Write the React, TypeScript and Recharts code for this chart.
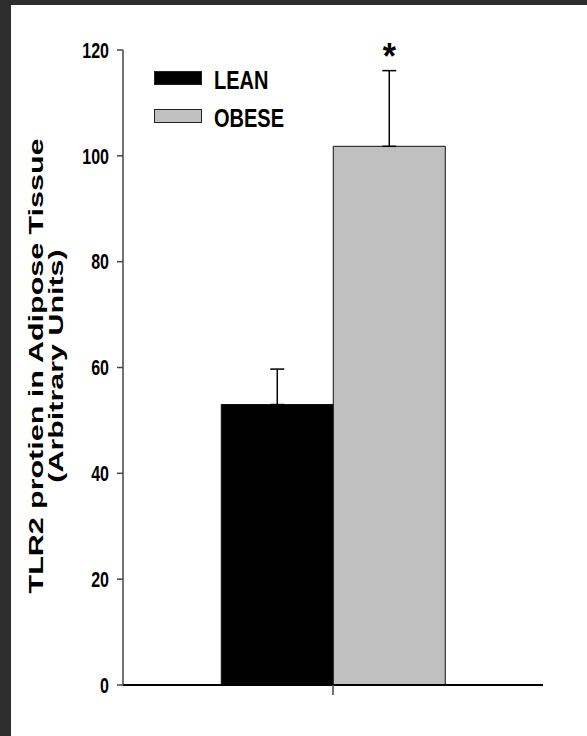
import { BarChart, Bar, XAxis, YAxis, ErrorBar, Legend } from 'recharts'

const groups = ['Adipose']
const seriesNames = ['LEAN', 'OBESE']
const means = [53.0, 101.8]
const sems = [6.7, 14.3]
const starred = [false, true]
const yTicks = [0, 20, 40, 60, 80, 100, 120]

const colors = ['#000000', '#c0c0c0']
const FONT = '"Liberation Sans", Arial, Helvetica, sans-serif'

const data = groups.map((g) => {
  const row: Record<string, any> = { group: g }
  seriesNames.forEach((s, i) => {
    row[s] = means[i]
    row[s + '_err'] = [0, sems[i]]
  })
  return row
})

// text in the source looks vertically stretched, so scale it a bit
const YTick = (props: any) => {
  const { x, y, payload } = props
  return (
    <text
      transform={`translate(${x},${y}) scale(1,1.35)`}
      textAnchor="end"
      dy="0.36em"
      fontFamily={FONT}
      fontWeight="bold"
      fontSize={16}
      fill="#000"
    >
      {payload.value}
    </text>
  )
}

const YLabel = () => (
  <g fontFamily={FONT} fontWeight="bold" fontSize={21} fill="#000">
    <text transform="translate(43,366) rotate(-90) scale(1.45,1)" textAnchor="middle">
      TLR2 protien in Adipose Tissue
    </text>
    <text transform="translate(63,366) rotate(-90) scale(1.45,1)" textAnchor="middle">
      (Arbitrary Units)
    </text>
  </g>
)

const makeStar = (i: number) => (props: any) => {
  if (!starred[i]) return null
  const { x, y, width, height, value } = props
  const pxPerUnit = height / value
  const errTop = y - sems[i] * pxPerUnit
  const cx = x + width / 2
  return (
    <text
      transform={`translate(${cx},${errTop - 2}) scale(1,1.1)`}
      textAnchor="middle"
      fontFamily={FONT}
      fontWeight="bold"
      fontSize={34}
      fill="#000"
    >
      *
    </text>
  )
}

const renderLegend = () => (
  <div style={{ fontFamily: FONT }}>
    {seriesNames.map((s, i) => (
      <div key={s} style={{ display: 'flex', alignItems: 'center', height: 14, marginBottom: i === 0 ? 24 : 0 }}>
        <div
          style={{
            width: 48,
            height: 14,
            boxSizing: 'border-box',
            background: colors[i],
            border: '1px solid #222',
          }}
        />
        <span
          style={{
            marginLeft: 12,
            fontSize: 20,
            fontWeight: 'bold',
            color: '#000',
            display: 'inline-block',
            transform: 'scaleY(1.3)',
            lineHeight: '14px',
            marginTop: 3,
          }}
        >
          {s}
        </span>
      </div>
    ))}
  </div>
)

export default function App() {
  return (
    <div style={{ position: 'absolute', left: 0, top: 0, width: 587, height: 736, background: '#2e2e2e' }}>
      <div style={{ position: 'absolute', left: 11, top: 5, right: 0, bottom: 0, background: '#ffffff' }} />
      <div style={{ position: 'absolute', left: 0, top: 0 }}>
        <BarChart
          width={587}
          height={736}
          data={data}
          margin={{ top: 50, right: 44, bottom: 21, left: 63 }}
          barGap={0}
          barCategoryGap="23.4%"
        >
          <XAxis
            dataKey="group"
            height={30}
            tickFormatter={() => ''}
            tickSize={10}
            axisLine={{ stroke: '#000', strokeWidth: 2 }}
            tickLine={{ stroke: '#444', strokeWidth: 1.5 }}
          />
          <YAxis
            width={60}
            domain={[0, 120]}
            ticks={yTicks}
            tickSize={6}
            tickMargin={8}
            tick={<YTick />}
            axisLine={{ stroke: '#444', strokeWidth: 1.5 }}
            tickLine={{ stroke: '#444', strokeWidth: 1.5 }}
            label={{ content: <YLabel /> }}
          />
          <Legend
            layout="horizontal"
            verticalAlign="middle"
            align="center"
            content={renderLegend}
            wrapperStyle={{ left: 154, top: 71, width: 200 }}
          />
          {seriesNames.map((s, i) => (
            <Bar
              key={s}
              dataKey={s}
              fill={colors[i]}
              stroke="#111"
              strokeWidth={1}
              isAnimationActive={false}
              label={makeStar(i)}
            >
              <ErrorBar dataKey={s + '_err'} direction="y" width={7} stroke="#000" strokeWidth={1.5} />
            </Bar>
          ))}
        </BarChart>
      </div>
    </div>
  )
}
